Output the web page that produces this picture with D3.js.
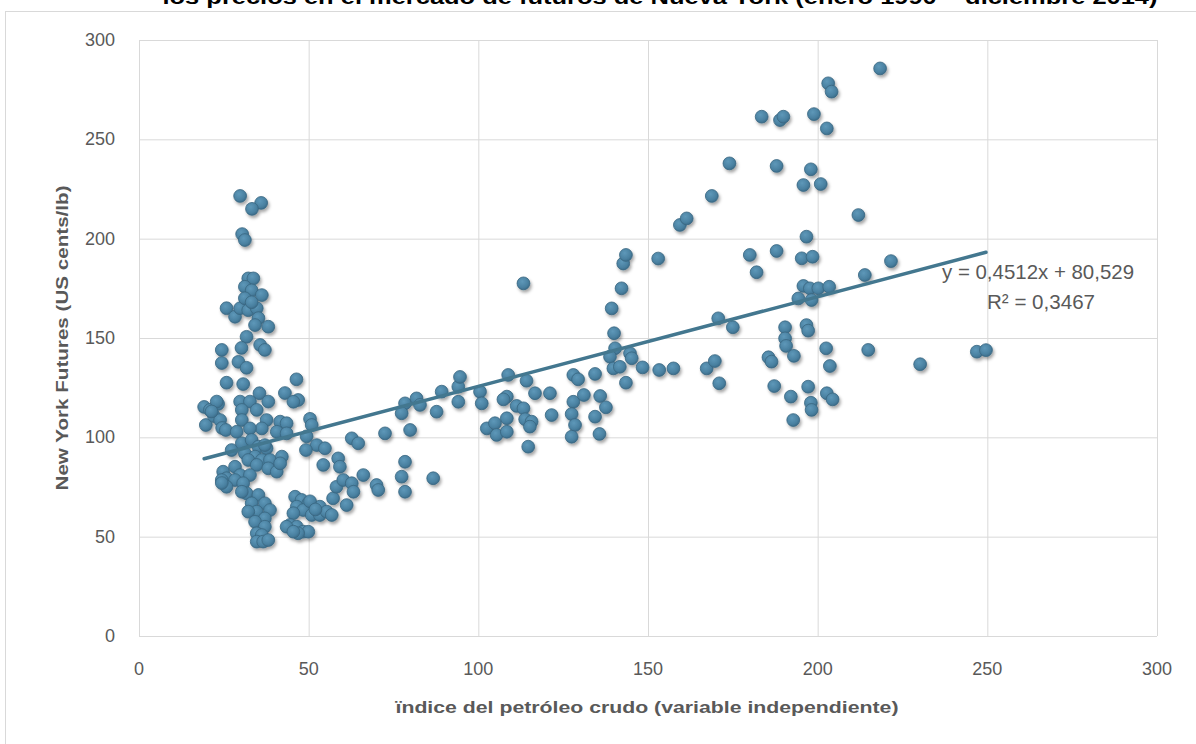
<!DOCTYPE html>
<html>
<head>
<meta charset="utf-8">
<script src="https://cdn.jsdelivr.net/npm/d3@7"></script>
<style>
  html, body { margin: 0; padding: 0; background: #fff; }
  svg { display: block; }
</style>
</head>
<body>
<svg id="chart" width="1196" height="744"></svg>
<script>
// ---- data ----
const chartTitle = "los precios en el mercado de futuros de Nueva York (enero 1990 – diciembre 2014)";
const xAxisTitle = "ïndice del petróleo crudo (variable independiente)";
const yAxisTitle = "New York Futures (US cents/lb)";
const xTicks = [0, 50, 100, 150, 200, 250, 300];
const yTicks = [0, 50, 100, 150, 200, 250, 300];
const trendSlope = 0.4512;
const trendIntercept = 80.529;
const equationLabel = "y = 0,4512x + 80,529";
const r2Label = "R² = 0,3467";

const oilIndex = [
  19.2,19.7,20.9,22.1,23.3,23.9,24.5,25.6,24.4,24.4,25.8,25.8,28.3,29.8,32.2,34.7,35.2,34.2,38.1,31.7,
  30.2,35.7,37.1,29.3,31.7,30.7,35.5,32.2,33.7,31.2,33.2,36.2,31.2,33.2,29.8,36,33.3,30.4,31.2,22.9,
  21.4,29.8,32.7,38.1,34.7,30.3,37.6,30.3,36.2,32.7,28.8,41.6,43.5,40.6,43.5,50.4,50.9,49.4,52.4,49.2,
  54.8,54.3,27.3,30.3,33.2,35.2,37.6,31.2,34.2,32.2,36.2,38.6,42.1,34.7,38.1,40.6,41.6,24.8,28.3,29.8,
  32.7,25.8,24.4,28.3,30.7,31.7,35.2,33.2,37.1,38.6,34.7,32.2,37.1,34.2,37.1,34.7,36.2,34.7,36.6,38.1,
  46.4,43,46.9,45.5,37.1,30.3,25.8,24.4,
  46,47.9,49.9,51.4,53.3,46.5,48.4,45.5,50.9,53.3,55.3,44.5,46.5,48.4,49.9,46.9,43.5,56.8,57.2,58.2,
  60.2,62.7,63.2,61.2,50.4,52,45.5,
  58.7,59.2,62.7,64.6,66.1,70,70.5,72.5,79.9,78.4,77.4,78.4,86.7,78.4,81.8,82.8,77.4,87.7,89.2,94.1,
  94.1,100.5,101,102.5,94.6,
  113.3,108.8,114.2,116.7,121.1,108.4,107.4,111.3,113.3,113.8,115.7,115.2,108.4,104.9,105.4,108.4,114.7,121.6,128,129.4,
  134.4,128,127.5,128.5,127.5,131.1,135.9,137.6,134.4,135.7,142.7,143.5,153,142.2,139.3,140,140.3,138.8,139.8,141.7,
  144.7,145.2,143.5,148.4,153.3,157.5,167.3,
  159.4,161.4,168.8,174,170.7,175,169.7,171,
  218.4,203.1,204.1,183.5,188.9,189.9,198.9,202.7,187.9,198,195.8,200.9,212,196.7,
  180,187.9,195.3,198.5,182,221.6,213.9,195.8,197.7,200.2,203.4,194.3,198.2,190.4,196.7,197.2,190.4,190.7,202.5,214.9,
  230.2,203.6,185.5,186.4,193,187.2,197.2,192.1,202.7,204.4,198,198.2,192.8,246.9,249.6
];
const nyFutures = [
  115.3,106.2,113.8,110.7,116.8,108.7,104.7,103.7,144,137.4,127.5,165,160.7,165,164,165,160,156.5,155.7,150.6,
  145,146.5,144,138,135,126.8,122.2,180,180,175.8,174,171.6,170,168,221.5,218,215,202.3,199.3,118,
  113,118,118,118,113.8,113.8,108.7,108.7,104.5,104.5,102.8,107.9,107.1,102.8,102,109.3,106.2,100.5,96.1,93.6,
  94.5,86.1,93.6,97,98.7,95.3,94.5,92,90.3,88.6,88.6,88.6,90.3,86.1,84.4,82.7,86.9,82.7,85.2,81,
  81,79.4,78.5,78.5,76.9,71.8,71,66.8,66.8,63.4,62.6,62.6,59.2,57.5,55,51.7,50.8,47.5,47.5,48.3,
  129.2,122.3,118.8,117.9,96.1,72.6,75.1,77,
  70.1,68.5,66.8,65.1,65.1,65.1,63.4,61.8,60.9,60.9,62.6,55.9,55,52.5,52.5,51.7,55,60.9,69.3,75.1,
  78.5,76.9,72.6,65.9,67.8,63.7,52.5,
  89.4,85.2,99.5,97,81,76,73.5,102,103.7,87.7,80.2,72.6,79.4,117.1,119.6,116.3,112.1,112.9,123,125.5,
  117.9,123,117.1,104.5,130.4,
  177.5,131.4,128.5,122.2,122.2,120.5,119.1,115.8,114.6,109.1,107.9,105.4,109.6,107.1,101.2,102.8,95.3,111.2,131.4,129.2,
  131.9,117.9,111.7,106.2,100.3,121.3,120.8,115.1,110.4,101.7,187.5,191.8,190,175,164.9,152.4,144.8,140.6,134.7,135.5,
  142.3,139.8,127.5,135.2,133.9,134.7,134.7,
  206.9,210.2,221.5,237.9,159.9,155.4,138.4,127.2,
  285.7,278.2,274,261.4,259.7,261.4,262.7,255.5,236.6,234.9,227,227.5,211.9,201,
  191.8,193.8,190.1,190.9,183.1,188.7,181.7,176.2,175,175,175.8,169.9,169.1,155.4,156.5,153.7,149.8,146,144.8,144,
  136.8,135.9,140.3,138.1,141,125.8,125.5,120.5,122.2,119.1,117.4,113.8,108.7,143.1,143.9
];

// ---- drawing ----
const svg = d3.select("#chart");
const W = 1196, H = 744;
const plot = { left: 139, right: 1157, top: 40, bottom: 636 };
const textColor = "#595959";
const gridColor = "#d9d9d9";
const font = "'Liberation Sans', Arial, sans-serif";

svg.append("rect").attr("width", W).attr("height", H).attr("fill", "#fff");

// chart frame
svg.append("rect")
  .attr("x", 5.5).attr("y", 11.5).attr("width", 1300).attr("height", 900)
  .attr("fill", "none").attr("stroke", gridColor).attr("stroke-width", 1);

const x = d3.scaleLinear().domain([0, 300]).range([plot.left, plot.right]);
const y = d3.scaleLinear().domain([0, 300]).range([plot.bottom, plot.top]);

const defs = svg.append("defs");
const grad = defs.append("radialGradient").attr("id", "dotGrad")
  .attr("cx", "40%").attr("cy", "35%").attr("r", "65%");
grad.append("stop").attr("offset", "0%").attr("stop-color", "#5e98b9");
grad.append("stop").attr("offset", "70%").attr("stop-color", "#4a81a1");
grad.append("stop").attr("offset", "100%").attr("stop-color", "#3c6e8c");
const filt = defs.append("filter").attr("id", "shadow")
  .attr("x", "-50%").attr("y", "-50%").attr("width", "200%").attr("height", "200%");
filt.append("feDropShadow").attr("dx", 1.5).attr("dy", 2.5).attr("stdDeviation", 1.6)
  .attr("flood-color", "#000").attr("flood-opacity", 0.35);

// grid
const gy = svg.append("g")
  .attr("transform", `translate(${plot.left},0)`)
  .call(d3.axisLeft(y).tickValues(yTicks).tickSize(-(plot.right - plot.left)).tickFormat(""));
gy.select(".domain").remove();
gy.selectAll("line").attr("stroke", gridColor).attr("stroke-width", 1);

const gx = svg.append("g")
  .attr("transform", `translate(0,${plot.bottom})`)
  .call(d3.axisBottom(x).tickValues(xTicks).tickSize(-(plot.bottom - plot.top)).tickFormat(""));
gx.select(".domain").remove();
gx.selectAll("line").attr("stroke", gridColor).attr("stroke-width", 1);

// tick labels
svg.append("g").selectAll("text").data(yTicks).join("text")
  .attr("x", plot.left - 24).attr("y", d => y(d) + 6)
  .attr("text-anchor", "end")
  .attr("font-family", font).attr("font-size", 18).attr("fill", textColor)
  .text(d => d);
svg.append("g").selectAll("text").data(xTicks).join("text")
  .attr("x", d => x(d)).attr("y", plot.bottom + 39)
  .attr("text-anchor", "middle")
  .attr("font-family", font).attr("font-size", 18).attr("fill", textColor)
  .text(d => d);

// points
const pts = oilIndex.map((v, i) => ({ x: v, y: nyFutures[i] }));
svg.append("g").attr("filter", "url(#shadow)")
  .selectAll("circle").data(pts).join("circle")
  .attr("cx", d => x(d.x)).attr("cy", d => y(d.y)).attr("r", 6.4)
  .attr("fill", "url(#dotGrad)")
  .attr("stroke", "#386680").attr("stroke-width", 0.8);

// trendline
const xMin = d3.min(oilIndex), xMax = d3.max(oilIndex);
svg.append("line")
  .attr("x1", x(xMin)).attr("y1", y(trendIntercept + trendSlope * xMin))
  .attr("x2", x(xMax)).attr("y2", y(trendIntercept + trendSlope * xMax))
  .attr("stroke", "#43778f").attr("stroke-width", 3.5).attr("stroke-linecap", "round");

// equation
svg.append("text").attr("x", 942).attr("y", 279)
  .attr("font-family", font).attr("font-size", 21).attr("fill", textColor)
  .attr("textLength", 192).attr("lengthAdjust", "spacingAndGlyphs")
  .text(equationLabel);
svg.append("text").attr("x", 987).attr("y", 309)
  .attr("font-family", font).attr("font-size", 21).attr("fill", textColor)
  .attr("textLength", 108).attr("lengthAdjust", "spacingAndGlyphs")
  .text(r2Label);

// axis titles
svg.append("text")
  .attr("x", 647).attr("y", 713).attr("text-anchor", "middle")
  .attr("font-family", font).attr("font-size", 17).attr("font-weight", "bold")
  .attr("fill", textColor)
  .attr("textLength", 503).attr("lengthAdjust", "spacingAndGlyphs")
  .text(xAxisTitle);
svg.append("text")
  .attr("transform", "translate(68,338) rotate(-90)")
  .attr("text-anchor", "middle")
  .attr("font-family", font).attr("font-size", 17).attr("font-weight", "bold")
  .attr("fill", textColor)
  .attr("textLength", 305).attr("lengthAdjust", "spacingAndGlyphs")
  .text(yAxisTitle);

// title (partly cut off at the top, as in the reference)
svg.append("text")
  .attr("x", 660).attr("y", 4).attr("text-anchor", "middle")
  .attr("font-family", font).attr("font-size", 20).attr("font-weight", "bold")
  .attr("fill", "#000")
  .attr("textLength", 995).attr("lengthAdjust", "spacingAndGlyphs")
  .text(chartTitle);
</script>
</body>
</html>
